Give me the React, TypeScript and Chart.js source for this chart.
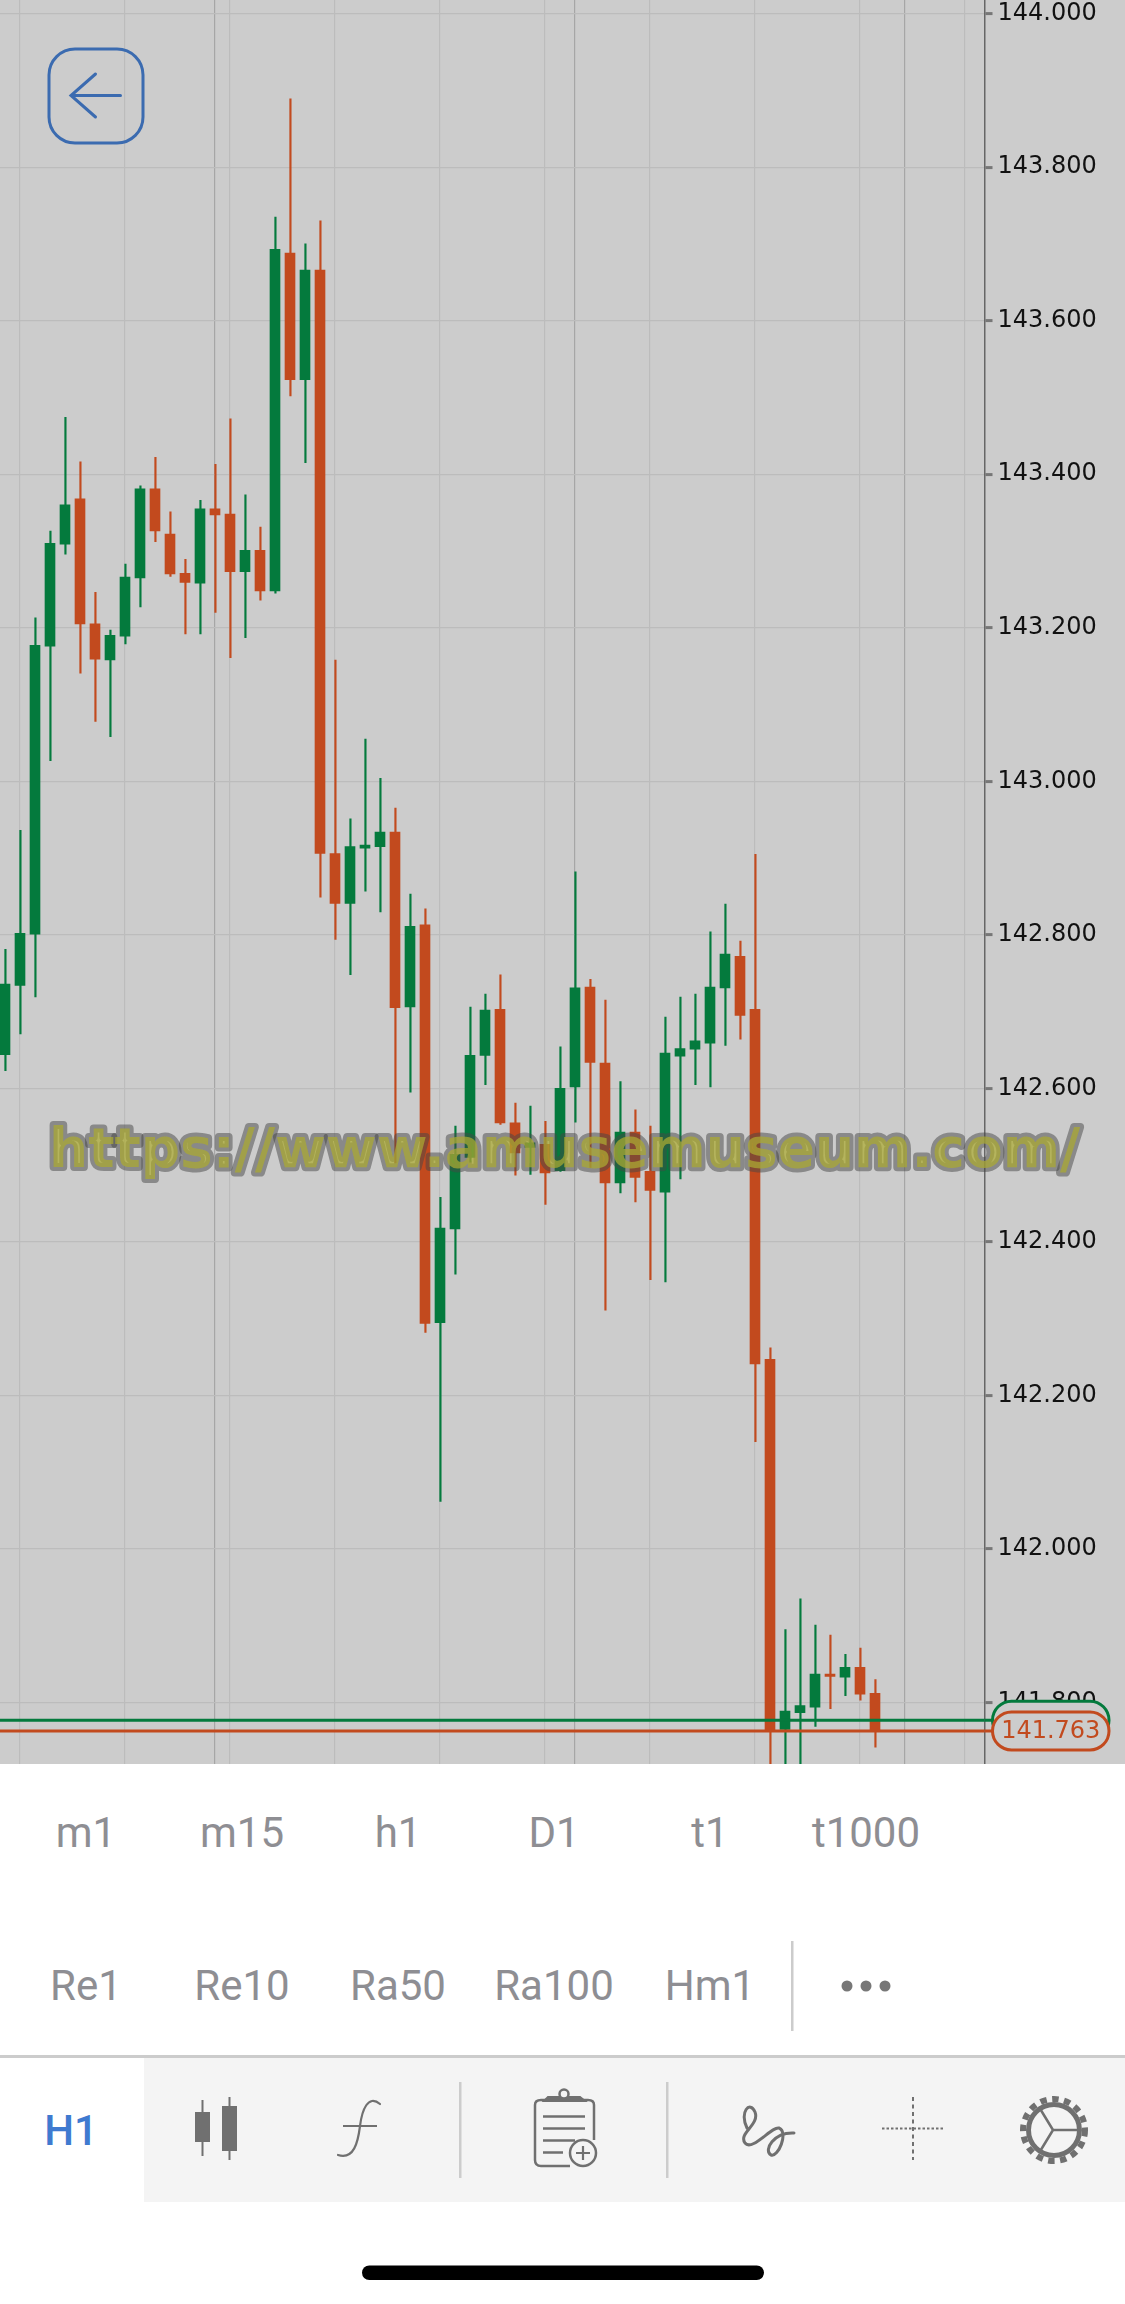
import React, { useEffect, useRef } from "react";
import { Chart, registerables } from "chart.js";

Chart.register(...registerables);

// ---- Data ----
const opens = [
  142.644, 142.734, 142.801, 143.176, 143.309, 143.368, 143.205, 143.158, 143.189, 143.265,
  143.381, 143.322, 143.271, 143.258, 143.355, 143.348, 143.273, 143.301, 143.248, 143.688,
  143.523, 143.666, 142.906, 142.841, 142.913, 142.915, 142.934, 142.706, 142.813, 142.295,
  142.417, 142.510, 142.643, 142.703, 142.555, 142.523, 142.527, 142.493, 142.602, 142.732,
  142.633, 142.477, 142.543, 142.492, 142.465, 142.642, 142.651, 142.659, 142.731, 142.772,
  142.703, 142.247, 141.765, 141.787, 141.794, 141.837, 141.833, 141.846, 141.812,
];
const closes = [
  142.736, 142.802, 143.177, 143.310, 143.360, 143.205, 143.159, 143.190, 143.266, 143.381,
  143.326, 143.270, 143.259, 143.355, 143.347, 143.273, 143.301, 143.248, 143.693, 143.523,
  143.666, 142.906, 142.841, 142.915, 142.917, 142.934, 142.705, 142.811, 142.294, 142.418,
  142.514, 142.643, 142.702, 142.555, 142.516, 142.529, 142.490, 142.600, 142.731, 142.634,
  142.477, 142.543, 142.484, 142.467, 142.646, 142.652, 142.662, 142.732, 142.775, 142.695,
  142.241, 141.764, 141.789, 141.796, 141.837, 141.834, 141.846, 141.811, 141.763,
];
const highs = [
  142.781, 142.936, 143.213, 143.326, 143.474, 143.416, 143.246, 143.197, 143.283, 143.385,
  143.422, 143.351, 143.289, 143.366, 143.413, 143.472, 143.373, 143.331, 143.735, 143.889,
  143.700, 143.730, 143.158, 142.951, 143.055, 143.004, 142.965, 142.853, 142.834, 142.458,
  142.551, 142.706, 142.723, 142.748, 142.581, 142.577, 142.557, 142.654, 142.882, 142.742,
  142.715, 142.609, 142.572, 142.551, 142.693, 142.719, 142.723, 142.804, 142.840, 142.792,
  142.905, 142.262, 141.895, 141.935, 141.901, 141.888, 141.863, 141.871, 141.830,
];
const lows = [
  142.623, 142.671, 142.719, 143.027, 143.296, 143.141, 143.078, 143.058, 143.179, 143.227,
  143.312, 143.267, 143.192, 143.192, 143.220, 143.161, 143.187, 143.236, 143.245, 143.502,
  143.415, 142.849, 142.794, 142.748, 142.857, 142.830, 142.503, 142.595, 142.282, 142.062,
  142.358, 142.504, 142.605, 142.553, 142.487, 142.488, 142.449, 142.492, 142.556, 142.497,
  142.311, 142.464, 142.452, 142.351, 142.348, 142.482, 142.605, 142.602, 142.656, 142.664,
  142.140, 141.700, 141.700, 141.700, 141.769, 141.792, 141.809, 141.803, 141.742,
];
const yTickValues = [141.8, 142.0, 142.2, 142.4, 142.6, 142.8, 143.0, 143.2, 143.4, 143.6, 143.8, 144.0];
const gridCandles = [1, 8, 15, 22, 29, 36, 43, 50, 57, 64];
const dayCandles = [14, 38, 60];
const askPrice = 141.777;
const bidPrice = 141.763;
const watermark = "https://www.amusemuseum.com/";
const timeframes = ["m1", "m15", "h1", "D1", "t1", "t1000"];
const indicators = ["Re1", "Re10", "Ra50", "Ra100", "Hm1"];

// ---- Styles ----
const GREEN = "#047A3D";
const RED = "#C24A1E";
const BG = "#CCCCCC";
const ICON = "#707070";
const TEXT_GRAY = "#8E8E93";
const ROW_CENTERS = [86, 242, 398, 554, 710, 866];

const pill = (ctx: CanvasRenderingContext2D, x: number, y: number, w: number, h: number, color: string) => {
  ctx.beginPath();
  ctx.roundRect(x, y, w, h, h / 2);
  ctx.fillStyle = BG;
  ctx.fill();
  ctx.lineWidth = 3;
  ctx.strokeStyle = color;
  ctx.stroke();
};

const overlayPlugin = {
  id: "overlay",
  afterDraw(chart: any) {
    const { ctx, chartArea, scales } = chart;
    ctx.save();
    const pillX = 992.5;
    const pillW = 116.5;
    const pillH = 38;
    const yAsk = scales.y.getPixelForValue(askPrice);
    const yBid = scales.y.getPixelForValue(bidPrice);
    ctx.lineWidth = 3;
    ctx.strokeStyle = GREEN;
    ctx.beginPath();
    ctx.moveTo(chartArea.right, yAsk);
    ctx.lineTo(pillX, yAsk);
    ctx.stroke();
    pill(ctx, pillX, yAsk - pillH / 2, pillW, pillH, GREEN);
    ctx.strokeStyle = RED;
    ctx.lineWidth = 3;
    ctx.beginPath();
    ctx.moveTo(chartArea.right, yBid);
    ctx.lineTo(pillX, yBid);
    ctx.stroke();
    pill(ctx, pillX, yBid - pillH / 2, pillW, pillH, RED);
    ctx.fillStyle = RED;
    ctx.font = "24px 'DejaVu Sans'";
    ctx.textAlign = "center";
    ctx.textBaseline = "middle";
    ctx.fillText(bidPrice.toFixed(3), pillX + pillW / 2, yBid + 1);

    ctx.font = "bold 55px 'DejaVu Sans'";
    ctx.textAlign = "left";
    ctx.textBaseline = "alphabetic";
    ctx.lineJoin = "round";
    ctx.lineWidth = 8;
    ctx.strokeStyle = "rgba(70,70,70,0.5)";
    ctx.strokeText(watermark, 49, 1167);
    ctx.fillStyle = "rgba(172,170,50,0.72)";
    ctx.fillText(watermark, 49, 1167);
    ctx.restore();
  },
};

function Label({ text, cx, top, size = 42, color = TEXT_GRAY, weight = 400 }: any) {
  return (
    <div
      style={{
        position: "absolute",
        left: cx - 100,
        width: 200,
        top,
        textAlign: "center",
        fontFamily: "Roboto, sans-serif",
        fontSize: size,
        lineHeight: `${size}px`,
        fontWeight: weight,
        color,
      }}
    >
      {text}
    </div>
  );
}

export default function App() {
  const ref = useRef<HTMLCanvasElement>(null);
  useEffect(() => {
    const index = opens.map((_, i) => i);
    const wickShift = 0.03;
    const candleColor = (i: number) => (closes[i] >= opens[i] ? GREEN : RED);
    const chart = new Chart(ref.current as HTMLCanvasElement, {
      type: "bar",
      data: {
        datasets: [
          {
            type: "line",
            data: [{ x: -1, y: askPrice }, { x: 70, y: askPrice }],
            borderColor: GREEN,
            borderWidth: 3,
            pointRadius: 0,
            order: 0,
          },
          {
            type: "line",
            data: [{ x: -1, y: bidPrice }, { x: 70, y: bidPrice }],
            borderColor: RED,
            borderWidth: 3,
            pointRadius: 0,
            order: 0,
          },
          {
            data: index.map((i) => ({ x: i, y: [Math.min(opens[i], closes[i]), Math.max(opens[i], closes[i])] })),
            backgroundColor: index.map(candleColor),
            borderWidth: 0,
            barThickness: 10,
            grouped: false,
            order: 1,
          },
          {
            data: index.map((i) => ({ x: i + wickShift, y: [lows[i], highs[i]] })),
            backgroundColor: index.map(candleColor),
            borderWidth: 0,
            barThickness: 1.5,
            grouped: false,
            order: 2,
          },
        ] as any,
      },
      options: {
        animation: false,
        responsive: false,
        maintainAspectRatio: false,
        events: [],
        layout: { padding: 0 },
        plugins: { legend: { display: false }, tooltip: { enabled: false }, title: { display: false } },
        scales: {
          x: {
            type: "linear",
            min: -1 / 3,
            max: 65.3,
            offset: false,
            border: { display: false },
            ticks: { display: false },
            grid: {
              offset: false,
              drawTicks: false,
              lineWidth: 1.2,
              color: (c: any) => (dayCandles.includes(c.tick?.value) ? "#A6A6A6" : "#BCBCBC"),
            },
            afterBuildTicks: (axis: any) => {
              axis.ticks = [...gridCandles, ...dayCandles].sort((a, b) => a - b).map((value) => ({ value }));
            },
            afterFit: (s: any) => {
              s.height = 0;
              s.paddingLeft = 0;
              s.paddingRight = 0;
            },
          },
          y: {
            type: "linear",
            position: "right",
            min: 141.72,
            max: 144.0177,
            border: { display: true, color: "#666666", width: 1.5 },
            grid: {
              lineWidth: 1.2,
              color: "#BCBCBC",
              tickColor: "#777777",
              tickWidth: 3,
              tickLength: 8,
            },
            ticks: {
              autoSkip: false,
              padding: 5,
              color: "#111111",
              font: { family: "'DejaVu Sans'", size: 24 },
              callback: (v: any) => Number(v).toFixed(3),
            },
            afterBuildTicks: (axis: any) => {
              axis.ticks = yTickValues.map((value) => ({ value }));
            },
            afterFit: (s: any) => {
              s.width = 140.5;
              s.paddingTop = 0;
              s.paddingBottom = 0;
            },
          },
        },
      } as any,
      plugins: [overlayPlugin] as any,
    });
    return () => chart.destroy();
  }, []);

  return (
    <div style={{ position: "absolute", left: 0, top: 0, width: 1125, height: 2304, background: "#FFFFFF", overflow: "hidden" }}>
      <canvas ref={ref} width={1125} height={1764} style={{ position: "absolute", left: 0, top: 0, width: 1125, height: 1764, background: BG }} />
      <div style={{ position: "absolute", left: 144, top: 2058, width: 981, height: 144, background: "#F4F4F4" }} />
      <div style={{ position: "absolute", left: 0, top: 2055, width: 1125, height: 3, background: "#CCCCCC" }} />
      {timeframes.map((t, i) => (
        <Label key={t} text={t} cx={ROW_CENTERS[i]} top={1812} />
      ))}
      {indicators.map((t, i) => (
        <Label key={t} text={t} cx={ROW_CENTERS[i]} top={1965} />
      ))}
      <Label text="H1" cx={71} top={2110} size={42} color="#3F7AD0" weight={500} />
      <svg width={1125} height={2304} style={{ position: "absolute", left: 0, top: 0 }}>
        {/* back button */}
        <rect x={49} y={49} width={94} height={94} rx={26} fill="none" stroke="#3B6BB0" strokeWidth={3} />
        <path d="M 120.5 95.5 H 71 M 95.5 74 L 71 95.5 L 95.5 117" fill="none" stroke="#3B6BB0" strokeWidth={3} strokeLinecap="round" />
        {/* more */}
        <circle cx={847} cy={1986} r={5.5} fill="#777" />
        <circle cx={866} cy={1986} r={5.5} fill="#777" />
        <circle cx={885} cy={1986} r={5.5} fill="#777" />
        <rect x={791} y={1941} width={2.5} height={90} fill="#CCC" />
        <rect x={459} y={2082} width={2.5} height={96} fill="#CCC" />
        <rect x={666} y={2082} width={2.5} height={96} fill="#CCC" />
        {/* candles icon */}
        <rect x={195} y={2112} width={15} height={30} fill={ICON} />
        <rect x={201.5} y={2100} width={2} height={56} fill={ICON} />
        <rect x={222} y={2106} width={15} height={45} fill={ICON} />
        <rect x={228.5} y={2097} width={2} height={63} fill={ICON} />
        {/* f icon */}
        <path d="M 380 2104 C 368 2094, 362 2110, 360 2126 C 358 2142, 354 2160, 338 2155" fill="none" stroke={ICON} strokeWidth={2.2} strokeLinecap="round" />
        <path d="M 343 2126 H 377" fill="none" stroke={ICON} strokeWidth={2.2} />
        {/* clipboard */}
        <path d="M 570 2166 H 541 Q 535 2166 535 2160 V 2105 Q 535 2100 541 2100 H 588 Q 594 2100 594 2105 V 2140" fill="none" stroke={ICON} strokeWidth={2.5} />
        <path d="M 544 2101 L 548 2097 H 580 L 585 2101 Z" fill={ICON} stroke={ICON} strokeWidth={2} />
        <circle cx={564} cy={2094} r={4.5} fill="#F4F4F4" stroke={ICON} strokeWidth={2.5} />
        <path d="M 543 2116.5 H 585 M 543 2128.5 H 585 M 543 2140.5 H 575 M 543 2152.5 H 563" stroke={ICON} strokeWidth={2.5} fill="none" />
        <circle cx={583} cy={2153} r={13} fill="#F4F4F4" stroke={ICON} strokeWidth={2.5} />
        <path d="M 583 2146 V 2160 M 576 2153 H 590" stroke={ICON} strokeWidth={2.2} fill="none" />
        {/* squiggle */}
        <path d="M 747 2128 C 739 2112, 750 2100, 755 2112 C 760 2125, 738 2133, 745 2143 C 752 2152, 772 2126, 779 2128 C 789 2132, 778 2158, 771 2155 C 763 2150, 774 2132, 794 2133" fill="none" stroke={ICON} strokeWidth={3} strokeLinecap="round" />
        {/* crosshair */}
        <path d="M 913 2097 V 2160" stroke={ICON} strokeWidth={2} strokeDasharray="4 3.5" fill="none" />
        <path d="M 882 2128.5 H 945" stroke={ICON} strokeWidth={2} strokeDasharray="2.5 2" fill="none" />
        {/* gear */}
        <circle cx={1054} cy={2130} r={31} fill="none" stroke={ICON} strokeWidth={6} strokeDasharray="6.5 5.5" />
        <circle cx={1054} cy={2130} r={25.5} fill="none" stroke={ICON} strokeWidth={5} />
        <path d="M 1053 2130 L 1080 2130 M 1053 2130 L 1039 2107 M 1053 2130 L 1039 2153" stroke={ICON} strokeWidth={2.5} fill="none" />
        {/* home indicator */}
        <rect x={362} y={2265.5} width={402} height={14.5} rx={7.25} fill="#000" />
      </svg>
    </div>
  );
}
